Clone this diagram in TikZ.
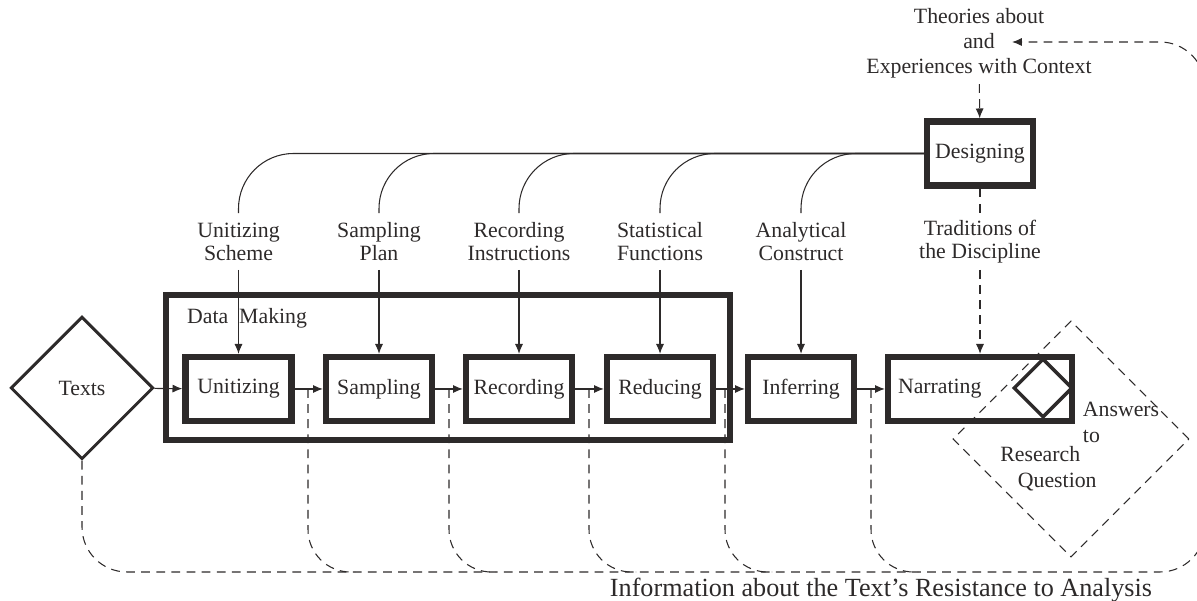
\documentclass[tikz,border=0pt]{standalone}
\usepackage{fontspec}
\setmainfont{Liberation Serif}
\usetikzlibrary{shapes.geometric,arrows.meta}
\definecolor{ink}{HTML}{2D2A2A}

\begin{document}
\begin{tikzpicture}[
  every node/.style={font=\fontsize{12.4}{13}\selectfont, text=ink},
  >={Latex[length=5.6pt,width=4.6pt]},
  stage/.style={draw=ink, line width=3.6pt, minimum width=2.12cm, minimum height=1.28cm, inner sep=0},
  spec/.style={align=center, minimum height=1.12cm, inner sep=0},
  flow/.style={draw=ink, line width=0.6pt},
  fback/.style={draw=ink, line width=0.6pt, dash pattern=on 5pt off 3.6pt}
]
\useasboundingbox (0,0) rectangle (23.94,12.02);
\node[diamond, draw=ink, line width=1.7pt, minimum size=2.85cm, inner sep=0] (texts) at (1.64,4.26) {Texts};
\node[stage, minimum width=11.28cm, minimum height=2.9cm] (datamaking) at (8.96,4.67) {};
\node[anchor=west] (dmlabel) at (3.62,5.66) {Data\enspace Making};
\node[stage] (unit) at (4.77,4.24) {Unitizing};
\node[stage] (samp) at (7.58,4.24) {Sampling};
\node[stage] (rec) at (10.38,4.24) {Recording};
\node[stage] (red) at (13.2,4.24) {Reducing};
\node[stage] (infer) at (16.02,4.24) {Inferring};
\node[stage, minimum width=3.68cm, text width=3.28cm, inner sep=0.2cm, align=left] (narr) at (19.6,4.24) {Narrating};
\node[diamond, draw=ink, line width=2pt, minimum size=1.18cm, inner sep=0] (ansbox) at (20.86,4.26) {};
\node[diamond, fback, minimum size=4.72cm, inner sep=0] (answer) at (21.42,3.24) {};
\node[align=left, anchor=north west, inner sep=0, font=\fontsize{12.4}{14.7}\selectfont] (anstext) at (20.0,3.98)
  {\hspace*{47pt}Answers\\ \hspace*{47pt}to\\[-3.9pt]Research\\ \hspace*{10pt}Question};
\node[stage] (design) at (19.6,8.95) {Designing};

\node[spec] (uscheme) at (4.77,7.19) {Unitizing\\Scheme};
\node[spec] (splan) at (7.58,7.19) {Sampling\\Plan};
\node[spec] (rinstr) at (10.38,7.19) {Recording\\Instructions};
\node[spec] (sfunc) at (13.2,7.19) {Statistical\\Functions};
\node[spec] (aconst) at (16.02,7.19) {Analytical\\Construct};
\node[spec] (tradit) at (19.6,7.19) {Traditions of\\the Discipline};
\node[align=center, font=\fontsize{12.4}{14.2}\selectfont] (theory) at (19.58,11.16) {Theories about\\and\\Experiences with Context};
\node[font=\fontsize{14.9}{16}\selectfont] (resist) at (17.62,0.22) {Information about the Text’s Resistance to Analysis};

\coordinate (theoin) at (20.24,11.18);
\coordinate (fb1) at (6.16,4.24);
\coordinate (fb2) at (8.98,4.24);
\coordinate (fb3) at (11.78,4.24);
\coordinate (fb4) at (14.5,4.24);
\coordinate (fb5) at (17.42,4.24);

\draw[flow,->] (texts) -- (unit);
\draw[flow,->] (unit) -- (samp);
\draw[flow,->] (samp) -- (rec);
\draw[flow,->] (rec) -- (red);
\draw[flow,->] (red) -- (infer);
\draw[flow,->] (infer) -- (narr);

\draw[flow,rounded corners=1.1cm] (design.west) -| (uscheme.north);
\draw[flow,rounded corners=1.1cm] (design.west) -| (splan.north);
\draw[flow,rounded corners=1.1cm] (design.west) -| (rinstr.north);
\draw[flow,rounded corners=1.1cm] (design.west) -| (sfunc.north);
\draw[flow,rounded corners=1.1cm] (design.west) -| (aconst.north);
\draw[flow,->] (uscheme) -- (unit);
\draw[flow,->] (splan) -- (samp);
\draw[flow,->] (rinstr) -- (rec);
\draw[flow,->] (sfunc) -- (red);
\draw[flow,->] (aconst) -- (infer);

\draw[fback,->] (theory) -- (design);
\draw[fback] (design) -- (tradit);
\draw[fback,->] (tradit) -- (narr);

\draw[fback,->,rounded corners=0.9cm] (texts.south) |- (24.1,0.58) |- (theoin);
\draw[fback,rounded corners=0.85cm] (fb1) |- (7.1,0.58);
\draw[fback,rounded corners=0.85cm] (fb2) |- (9.92,0.58);
\draw[fback,rounded corners=0.85cm] (fb3) |- (12.72,0.58);
\draw[fback,rounded corners=0.85cm] (fb4) |- (15.44,0.58);
\draw[fback,rounded corners=0.85cm] (fb5) |- (18.36,0.58);
\end{tikzpicture}
\end{document}
